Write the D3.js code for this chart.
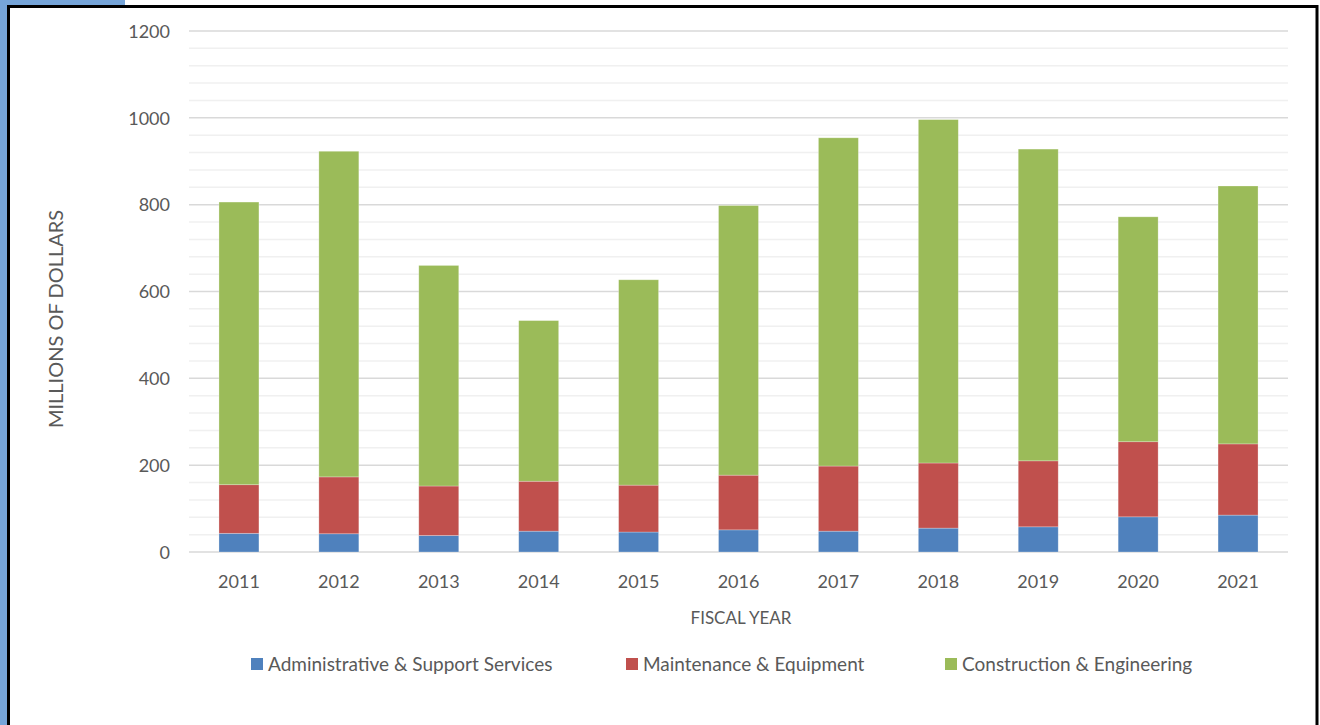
<!DOCTYPE html>
<html><head><meta charset="utf-8">
<script src="https://cdn.jsdelivr.net/npm/d3@7"></script>
<style>body{margin:0;background:#fff;}svg{display:block;}</style>
</head><body>
<script>
const years = ["2011","2012","2013","2014","2015","2016","2017","2018","2019","2020","2021"];
const admin = [43,42,38,48,46,51,48,55,58,81,85];
const maintenance = [112,131,114,115,108,126,150,150,152,173,164];
const construction = [651,750,508,370,473,621,756,791,718,518,594];
const seriesNames = ["Administrative & Support Services","Maintenance & Equipment","Construction & Engineering"];
const colors = ["#4f81bd","#c0504d","#9bbb59"];
const yTicks = [0,200,400,600,800,1000,1200];

const W=1320,H=725;
const font = "Lato,'Open Sans',sans-serif";
const svg = d3.select("body").append("svg").attr("width",W).attr("height",H);
svg.append("rect").attr("width",W).attr("height",H).attr("fill","#fff");
// decorative frame
svg.append("rect").attr("x",0).attr("y",0).attr("width",8).attr("height",H).attr("fill","#76a5d9");
svg.append("rect").attr("x",0).attr("y",0).attr("width",125).attr("height",6).attr("fill","#76a5d9");
svg.append("path").attr("d",`M8.5,${H} V6.5 H1317 V${H}`).attr("fill","none").attr("stroke","#000").attr("stroke-width",3);

const x = d3.scaleBand().domain(years).range([189,1288]).paddingInner(0.6).paddingOuter(0.3);
const y = d3.scaleLinear().domain([0,1200]).range([552,31]);

const g = svg.append("g");
g.selectAll("line.minor").data(d3.range(0,1201,40).filter(v=>v%200!==0)).join("line")
 .attr("x1",189).attr("x2",1288).attr("y1",d=>y(d)).attr("y2",d=>y(d))
 .attr("stroke","#f0f0f0").attr("stroke-width",1.5);
g.selectAll("line.major").data(yTicks).join("line")
 .attr("x1",189).attr("x2",1288).attr("y1",d=>y(d)).attr("y2",d=>y(d))
 .attr("stroke","#d9d9d9").attr("stroke-width",1.5);

const rows = years.map((yr,i)=>({year:yr,a:admin[i],m:maintenance[i],c:construction[i]}));
const stack = d3.stack().keys(["a","m","c"])(rows);
g.selectAll("g.s").data(stack).join("g").attr("fill",(d,i)=>colors[i])
 .selectAll("rect").data(d=>d).join("rect")
 .attr("x",d=>x(d.data.year)).attr("width",x.bandwidth())
 .attr("y",d=>y(d[1])).attr("height",d=>y(d[0])-y(d[1]))
 .attr("stroke","#fff").attr("stroke-opacity",0.35).attr("stroke-width",0.75);

const yAxis = d3.axisLeft(y).tickValues(yTicks).tickFormat(d3.format("d")).tickSize(0).tickPadding(0);
const ya = svg.append("g").attr("transform","translate(170,0)").call(yAxis);
ya.select(".domain").remove();
ya.selectAll("text").attr("font-family",font).attr("font-size",18).attr("fill","#595959").attr("dy","0.35em");

const xAxis = d3.axisBottom(x).tickSize(0).tickPadding(0);
const xa = svg.append("g").attr("transform","translate(0,575)").call(xAxis);
xa.select(".domain").remove();
xa.selectAll("text").attr("font-family",font).attr("font-size",18).attr("fill","#595959").attr("dy","0.71em");

svg.append("text").attr("x",741).attr("y",624).attr("text-anchor","middle")
 .attr("font-family",font).attr("font-size",17).attr("fill","#595959").text("FISCAL YEAR");
svg.append("text").attr("transform","translate(63,319) rotate(-90)").attr("text-anchor","middle")
 .attr("font-family",font).attr("font-size",20).attr("fill","#595959").text("MILLIONS OF DOLLARS");

const legX = [251,626,945];
const lg = svg.append("g").selectAll("g").data(seriesNames).join("g")
 .attr("transform",(d,i)=>`translate(${legX[i]},658)`);
lg.append("rect").attr("width",12).attr("height",12).attr("fill",(d,i)=>colors[i]);
lg.append("text").attr("x",17).attr("y",6).attr("dy","0.35em")
 .attr("font-family",font).attr("font-size",19).attr("fill","#595959").text(d=>d);
</script>
</body></html>
